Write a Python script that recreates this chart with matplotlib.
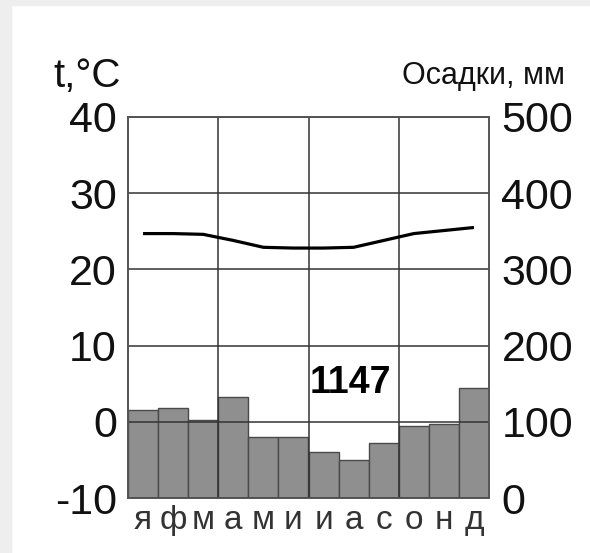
import matplotlib.pyplot as plt
from matplotlib.patches import Rectangle

plt.rcParams['font.family'] = ['Liberation Sans', 'DejaVu Sans']
plt.rcParams['axes.unicode_minus'] = False

# климатограмма: температура (°C) и осадки (мм) по месяцам
months = ['я', 'ф', 'м', 'а', 'м', 'и', 'и', 'а', 'с', 'о', 'н', 'д']
temp = [24.7, 24.7, 24.6, 23.8, 22.9, 22.8, 22.8, 22.9, 23.8, 24.7, 25.1, 25.5]
precip = [115, 118, 103, 133, 80, 80, 60, 50, 72, 95, 97, 144]
total_precip = '1147'
temp_ticks = [-10, 0, 10, 20, 30, 40]
precip_ticks = [0, 100, 200, 300, 400, 500]

W, H = 590, 553
fig = plt.figure(figsize=(W / 100, H / 100), dpi=100)
fig.patch.set_facecolor('white')
# светло-серая рамка сверху и слева
fig.patches.append(Rectangle((0, 1 - 5 / H), 1, 5 / H, transform=fig.transFigure,
                             color='#eeeeee', zorder=0))
fig.patches.append(Rectangle((0, 0), 11 / W, 1, transform=fig.transFigure,
                             color='#eeeeee', zorder=0))

ax = fig.add_axes([128 / W, 55 / H, 361 / W, 381 / H])
ax2 = ax.twinx()

x = [i + 0.5 for i in range(12)]

# осадки
ax2.bar(x, precip, width=1.0, color='#8f8f8f', edgecolor='#4a4a4a', linewidth=1.0)
ax2.set_ylim(0, 500)
ax2.set_yticks(precip_ticks)
ax2.tick_params(axis='y', length=0, pad=9, labelsize=31, colors='#111111')

# температура
ax.set_zorder(ax2.get_zorder() + 1)
ax.patch.set_visible(False)
ax.plot(x, temp, color='black', linewidth=2.3, solid_capstyle='butt')
ax.set_xlim(0, 12)
ax.set_ylim(-10, 40)
ax.set_yticks(temp_ticks)
ax.set_xticks(x)
ax.set_xticklabels(months)
ax.set_xticks([3, 6, 9], minor=True)
ax.tick_params(axis='y', length=0, pad=8, labelsize=31, colors='#111111')
ax.tick_params(axis='x', which='both', length=0, pad=5, labelsize=24, colors='#333333')
ax.grid(axis='y', which='major', color='#333333', linewidth=1.1)
ax.grid(axis='x', which='minor', color='#333333', linewidth=1.1)
ax.grid(axis='x', which='major', visible=False)

for a in (ax, ax2):
    for s in a.spines.values():
        s.set_color('#555555')
        s.set_linewidth(1.2)

ax.text(7.4, 5.1, total_precip, ha='center', va='center', fontsize=27,
        fontweight='bold')

fig.text(87 / W, 1 - 76 / H, 't,°C', ha='center', va='center', fontsize=29,
         color='#111111')
fig.text(565 / W, 1 - 76 / H, 'Осадки, мм', ha='right', va='center', fontsize=22,
         color='#111111')

fig.savefig('out.png', dpi=100)
